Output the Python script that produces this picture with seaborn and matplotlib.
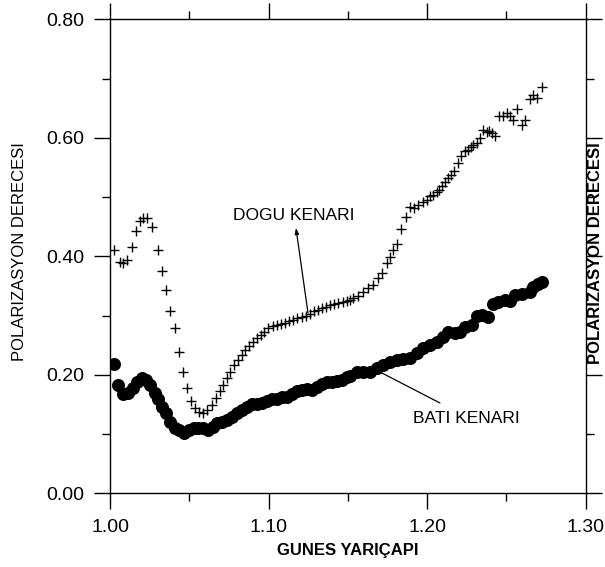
import matplotlib
matplotlib.use("Agg")
import matplotlib.pyplot as plt
from matplotlib.ticker import MultipleLocator, FormatStrFormatter
import seaborn as sns
import pandas as pd

# East limb (DOGU KENARI) polarization degree vs. solar radius
dogu_r = [1.0023, 1.0061, 1.0082, 1.0103, 1.0139, 1.0160, 1.0187, 1.0208, 1.0230, 1.0261,
          1.0299, 1.0324, 1.0352, 1.0377, 1.0408, 1.0434, 1.0461, 1.0486, 1.0509, 1.0535,
          1.0560, 1.0587, 1.0612, 1.0640, 1.0665, 1.0693, 1.0714, 1.0735, 1.0756, 1.0781,
          1.0804, 1.0829, 1.0850, 1.0878, 1.0903, 1.0924, 1.0949, 1.0970, 1.0997, 1.1025,
          1.1050, 1.1076, 1.1103, 1.1130, 1.1155, 1.1181, 1.1208, 1.1235, 1.1261, 1.1286,
          1.1309, 1.1335, 1.1362, 1.1387, 1.1412, 1.1439, 1.1467, 1.1492, 1.1513, 1.1534,
          1.1566, 1.1597, 1.1629, 1.1660, 1.1692, 1.1713, 1.1745, 1.1766, 1.1787, 1.1812,
          1.1835, 1.1865, 1.1892, 1.1917, 1.1944, 1.1972, 1.1997, 1.2018, 1.2039, 1.2061,
          1.2077, 1.2094, 1.2113, 1.2132, 1.2151, 1.2172, 1.2195, 1.2214, 1.2239, 1.2260,
          1.2277, 1.2292, 1.2313, 1.2334, 1.2355, 1.2376, 1.2391, 1.2408, 1.2429, 1.2456,
          1.2481, 1.2502, 1.2523, 1.2544, 1.2566, 1.2597, 1.2618, 1.2650, 1.2670, 1.2692,
          1.2723]
dogu_p = [0.411, 0.391, 0.389, 0.394, 0.416, 0.442, 0.460, 0.464, 0.464, 0.449,
          0.411, 0.376, 0.343, 0.308, 0.279, 0.239, 0.205, 0.177, 0.155, 0.144,
          0.138, 0.136, 0.141, 0.149, 0.160, 0.172, 0.183, 0.194, 0.205, 0.217,
          0.225, 0.233, 0.242, 0.249, 0.256, 0.262, 0.267, 0.273, 0.279, 0.282,
          0.284, 0.286, 0.288, 0.291, 0.293, 0.295, 0.297, 0.300, 0.303, 0.307,
          0.309, 0.312, 0.315, 0.317, 0.320, 0.322, 0.323, 0.325, 0.327, 0.329,
          0.333, 0.340, 0.346, 0.352, 0.363, 0.371, 0.388, 0.399, 0.411, 0.421,
          0.446, 0.467, 0.484, 0.481, 0.487, 0.491, 0.495, 0.501, 0.503, 0.509,
          0.512, 0.519, 0.526, 0.532, 0.537, 0.544, 0.557, 0.569, 0.577, 0.579,
          0.584, 0.588, 0.591, 0.600, 0.613, 0.610, 0.612, 0.608, 0.603, 0.636,
          0.637, 0.641, 0.637, 0.630, 0.648, 0.622, 0.630, 0.665, 0.672, 0.667,
          0.685]

# West limb (BATI KENARI)
bati_r = [1.0023, 1.0050, 1.0082, 1.0114, 1.0141, 1.0167, 1.0198, 1.0225, 1.0251, 1.0282,
          1.0303, 1.0324, 1.0352, 1.0377, 1.0408, 1.0436, 1.0467, 1.0499, 1.0528, 1.0556,
          1.0587, 1.0619, 1.0646, 1.0672, 1.0703, 1.0735, 1.0766, 1.0798, 1.0829, 1.0861,
          1.0893, 1.0924, 1.0956, 1.0987, 1.1019, 1.1050, 1.1082, 1.1114, 1.1145, 1.1177,
          1.1208, 1.1240, 1.1271, 1.1303, 1.1335, 1.1366, 1.1398, 1.1429, 1.1461, 1.1492,
          1.1513, 1.1556, 1.1597, 1.1640, 1.1682, 1.1723, 1.1766, 1.1808, 1.1850, 1.1892,
          1.1934, 1.1976, 1.2018, 1.2061, 1.2102, 1.2134, 1.2176, 1.2208, 1.2239, 1.2282,
          1.2313, 1.2345, 1.2386, 1.2418, 1.2449, 1.2492, 1.2523, 1.2555, 1.2597, 1.2650,
          1.2671, 1.2702, 1.2723]
bati_p = [0.218, 0.183, 0.168, 0.170, 0.177, 0.188, 0.194, 0.191, 0.183, 0.169,
          0.159, 0.146, 0.135, 0.121, 0.111, 0.107, 0.102, 0.107, 0.110, 0.111,
          0.110, 0.106, 0.112, 0.118, 0.121, 0.124, 0.129, 0.135, 0.141, 0.146,
          0.151, 0.151, 0.153, 0.156, 0.159, 0.159, 0.162, 0.163, 0.168, 0.172,
          0.174, 0.176, 0.174, 0.180, 0.185, 0.187, 0.188, 0.190, 0.192, 0.197,
          0.198, 0.204, 0.204, 0.205, 0.211, 0.217, 0.222, 0.225, 0.226, 0.228,
          0.236, 0.245, 0.250, 0.256, 0.263, 0.273, 0.271, 0.273, 0.281, 0.284,
          0.299, 0.301, 0.298, 0.320, 0.323, 0.327, 0.325, 0.335, 0.336, 0.340,
          0.349, 0.353, 0.356]

x_ticks = [1.00, 1.10, 1.20, 1.30]
y_ticks = [0.00, 0.20, 0.40, 0.60, 0.80]

sns.set_style("ticks")
plt.rcParams["font.family"] = ["Liberation Sans", "DejaVu Sans"]
plt.rcParams["text.color"] = "black"
plt.rcParams["axes.labelcolor"] = "black"
plt.rcParams["xtick.color"] = "black"
plt.rcParams["ytick.color"] = "black"

dogu = pd.DataFrame({"r": dogu_r, "p": dogu_p})
bati = pd.DataFrame({"r": bati_r, "p": bati_p})

fig = plt.figure(figsize=(6.05, 5.67), dpi=100)
ax = fig.add_axes([0.1823, 0.130, 0.7855, 0.836])

sns.scatterplot(data=bati, x="r", y="p", ax=ax, marker="o", s=88,
                color="black", edgecolor="black", linewidth=0, legend=False, zorder=3)
sns.scatterplot(data=dogu, x="r", y="p", ax=ax, marker="+", s=62,
                color="black", linewidth=1.0, legend=False, zorder=3)

ax.set_xlim(1.0, 1.3)
ax.set_ylim(0.0, 0.8)
ax.set_xticks(x_ticks)
ax.set_yticks(y_ticks)
ax.xaxis.set_minor_locator(MultipleLocator(0.05))
ax.yaxis.set_minor_locator(MultipleLocator(0.1))
ax.xaxis.set_major_formatter(FormatStrFormatter("%.2f"))
ax.yaxis.set_major_formatter(FormatStrFormatter("%.2f"))

for side in ["left", "right", "top", "bottom"]:
    ax.spines[side].set_visible(True)
    ax.spines[side].set_linewidth(1.0)
    ax.spines[side].set_color("black")

ax.tick_params(which="major", direction="out", length=11.5, width=1.0,
               top=True, right=True, labeltop=False, labelright=False,
               labelsize=14, pad=7, colors="black")
ax.tick_params(which="minor", direction="out", length=5.8, width=1.0,
               top=True, right=True, colors="black")

ax.set_xlabel("GUNES YARIÇAPI", fontsize=12, fontweight="bold", color="black")
ax.xaxis.set_label_coords(0.5, -0.1217)
ax.xaxis.label.set_va("center")
ax.set_ylabel("POLARIZASYON DERECESI", fontsize=12, color="black")
ax.yaxis.set_label_coords(-0.191, 0.511)
ax.yaxis.label.set_va("center")
ax.yaxis.label.set_ha("center")

ax.text(1.020, 0.507, "POLARIZASYON DERECESI", transform=ax.transAxes,
        rotation=90, fontsize=12, fontweight="bold", ha="center", va="center",
        color="black")

ax.annotate("", xy=(1.1172, 0.448), xytext=(1.1248, 0.3043),
            arrowprops=dict(arrowstyle="-|>,head_length=0.35,head_width=0.12",
                            color="black", lw=0.9, shrinkA=0, shrinkB=0))
ax.text(1.1157, 0.468, "DOGU KENARI", fontsize=12.5, ha="center", va="center",
        color="black")
ax.annotate("", xy=(1.1715, 0.203), xytext=(1.2081, 0.1524),
            arrowprops=dict(arrowstyle="-", color="black", lw=0.9,
                            shrinkA=0, shrinkB=0))
ax.text(1.2246, 0.127, "BATI KENARI", fontsize=12.5, ha="center", va="center",
        color="black")

fig.savefig("out.png", dpi=100)
